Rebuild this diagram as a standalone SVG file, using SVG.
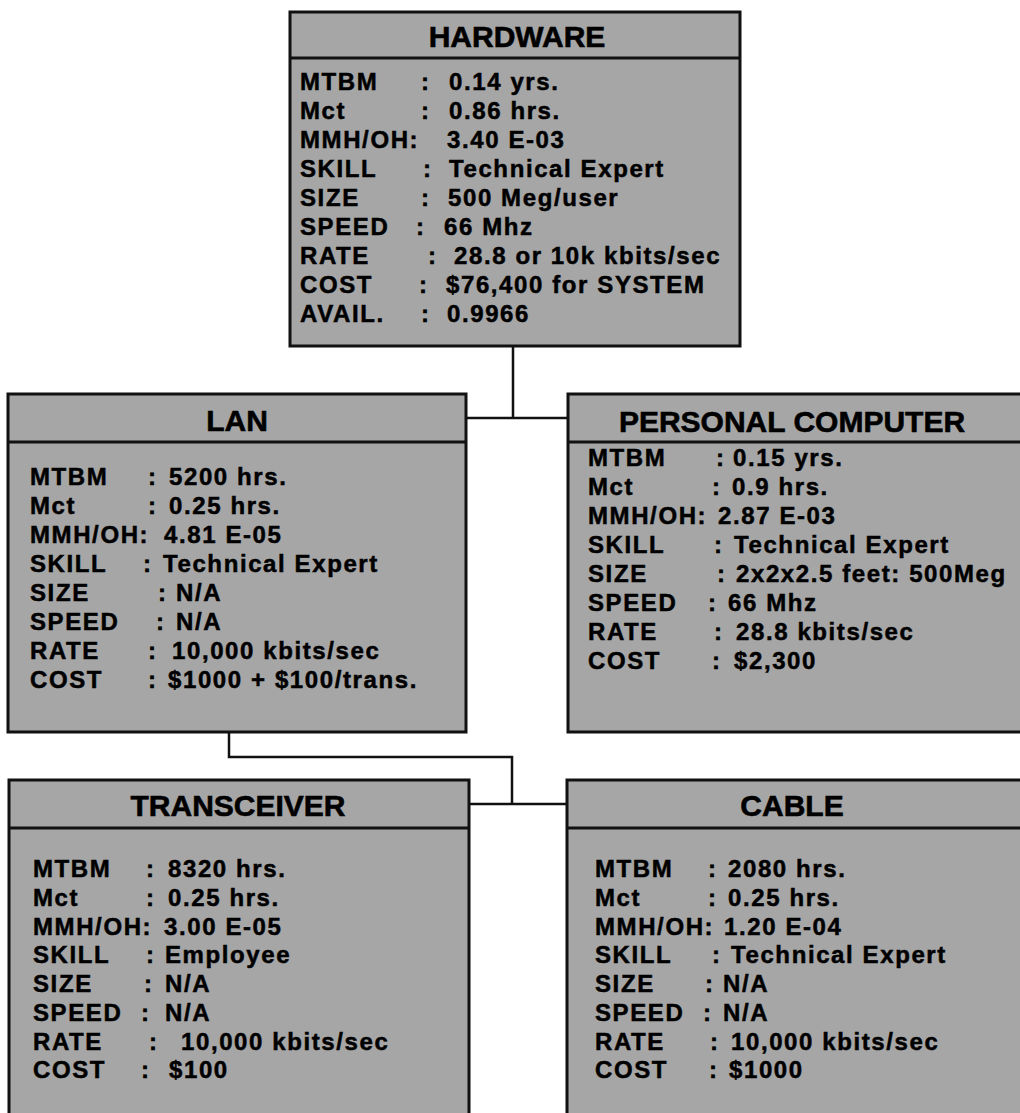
<svg xmlns="http://www.w3.org/2000/svg" width="1020" height="1113" viewBox="0 0 1020 1113">
<style>
.box{fill:#a6a6a6;stroke:#111;stroke-width:3}
.sep{stroke:#111;stroke-width:3}
.title{font-family:"Liberation Sans",Arial,sans-serif;font-weight:bold;font-size:30px;fill:#000;stroke:#000;stroke-width:0.6px;text-anchor:middle}
.t{font-family:"Liberation Sans",Arial,sans-serif;font-weight:bold;font-size:24px;letter-spacing:1.6px;fill:#000;stroke:#000;stroke-width:0.5px}
.conn{fill:none;stroke:#111;stroke-width:2.5}
</style>
<rect width="1020" height="1113" fill="#fff"/>
<g id="connectors">
<path class="conn" d="M513 346 V418 M466 418 H568"/>
<path class="conn" d="M229 732 V757 H512 V804 M469 804 H567"/>
</g>
<g id="hardware">
<rect class="box" x="290" y="12" width="450" height="334"/>
<line class="sep" x1="290" y1="58" x2="740" y2="58"/>
<text class="title" x="517" y="47">HARDWARE</text>
<text class="t" y="90"><tspan x="300">MTBM</tspan><tspan x="421">:</tspan><tspan x="449">0.14 yrs.</tspan></text>
<text class="t" y="119"><tspan x="300">Mct</tspan><tspan x="421">:</tspan><tspan x="449">0.86 hrs.</tspan></text>
<text class="t" y="148"><tspan x="300">MMH/OH:</tspan><tspan x="447">3.40 E-03</tspan></text>
<text class="t" y="177"><tspan x="300">SKILL</tspan><tspan x="423">:</tspan><tspan x="449">Technical Expert</tspan></text>
<text class="t" y="206"><tspan x="300">SIZE</tspan><tspan x="421">:</tspan><tspan x="448">500 Meg/user</tspan></text>
<text class="t" y="235"><tspan x="300">SPEED</tspan><tspan x="416">:</tspan><tspan x="444">66 Mhz</tspan></text>
<text class="t" y="264"><tspan x="300">RATE</tspan><tspan x="428">:</tspan><tspan x="454">28.8 or 10k kbits/sec</tspan></text>
<text class="t" y="293"><tspan x="300">COST</tspan><tspan x="419">:</tspan><tspan x="446">$76,400 for SYSTEM</tspan></text>
<text class="t" y="322"><tspan x="300">AVAIL.</tspan><tspan x="421">:</tspan><tspan x="447">0.9966</tspan></text>
</g>
<g id="lan">
<rect class="box" x="8" y="394" width="458" height="338"/>
<line class="sep" x1="8" y1="442" x2="466" y2="442"/>
<text class="title" x="237" y="431">LAN</text>
<text class="t" y="485"><tspan x="30">MTBM</tspan><tspan x="148">:</tspan><tspan x="169">5200 hrs.</tspan></text>
<text class="t" y="514"><tspan x="30">Mct</tspan><tspan x="148">:</tspan><tspan x="169">0.25 hrs.</tspan></text>
<text class="t" y="543"><tspan x="30">MMH/OH:</tspan><tspan x="164">4.81 E-05</tspan></text>
<text class="t" y="572"><tspan x="30">SKILL</tspan><tspan x="143">:</tspan><tspan x="163">Technical Expert</tspan></text>
<text class="t" y="601"><tspan x="30">SIZE</tspan><tspan x="158">:</tspan><tspan x="176">N/A</tspan></text>
<text class="t" y="630"><tspan x="30">SPEED</tspan><tspan x="156">:</tspan><tspan x="176">N/A</tspan></text>
<text class="t" y="659"><tspan x="30">RATE</tspan><tspan x="148">:</tspan><tspan x="172">10,000 kbits/sec</tspan></text>
<text class="t" y="688"><tspan x="30">COST</tspan><tspan x="148">:</tspan><tspan x="168">$1000 + $100/trans.</tspan></text>
</g>
<g id="personal-computer">
<rect class="box" x="568" y="394" width="470" height="338"/>
<line class="sep" x1="568" y1="442" x2="1038" y2="442"/>
<text class="title" x="792" y="432">PERSONAL COMPUTER</text>
<text class="t" y="466"><tspan x="588">MTBM</tspan><tspan x="716">:</tspan><tspan x="733">0.15 yrs.</tspan></text>
<text class="t" y="495"><tspan x="588">Mct</tspan><tspan x="712">:</tspan><tspan x="732">0.9 hrs.</tspan></text>
<text class="t" y="524"><tspan x="588">MMH/OH:</tspan><tspan x="718">2.87 E-03</tspan></text>
<text class="t" y="553"><tspan x="588">SKILL</tspan><tspan x="714">:</tspan><tspan x="734">Technical Expert</tspan></text>
<text class="t" y="582"><tspan x="588">SIZE</tspan><tspan x="717">:</tspan><tspan x="736">2x2x2.5 feet: 500Meg</tspan></text>
<text class="t" y="611"><tspan x="588">SPEED</tspan><tspan x="708">:</tspan><tspan x="728">66 Mhz</tspan></text>
<text class="t" y="640"><tspan x="588">RATE</tspan><tspan x="714">:</tspan><tspan x="736">28.8 kbits/sec</tspan></text>
<text class="t" y="669"><tspan x="588">COST</tspan><tspan x="712">:</tspan><tspan x="734">$2,300</tspan></text>
</g>
<g id="transceiver">
<rect class="box" x="9" y="780" width="460" height="345"/>
<line class="sep" x1="9" y1="828" x2="469" y2="828"/>
<text class="title" x="238" y="816">TRANSCEIVER</text>
<text class="t" y="877"><tspan x="33">MTBM</tspan><tspan x="146">:</tspan><tspan x="168">8320 hrs.</tspan></text>
<text class="t" y="906"><tspan x="33">Mct</tspan><tspan x="146">:</tspan><tspan x="168">0.25 hrs.</tspan></text>
<text class="t" y="935"><tspan x="33">MMH/OH:</tspan><tspan x="164">3.00 E-05</tspan></text>
<text class="t" y="963"><tspan x="33">SKILL</tspan><tspan x="146">:</tspan><tspan x="165">Employee</tspan></text>
<text class="t" y="992"><tspan x="33">SIZE</tspan><tspan x="144">:</tspan><tspan x="165">N/A</tspan></text>
<text class="t" y="1021"><tspan x="33">SPEED</tspan><tspan x="141">:</tspan><tspan x="165">N/A</tspan></text>
<text class="t" y="1050"><tspan x="33">RATE</tspan><tspan x="149">:</tspan><tspan x="181">10,000 kbits/sec</tspan></text>
<text class="t" y="1078"><tspan x="33">COST</tspan><tspan x="141">:</tspan><tspan x="169">$100</tspan></text>
</g>
<g id="cable">
<rect class="box" x="567" y="780" width="470" height="345"/>
<line class="sep" x1="567" y1="828" x2="1037" y2="828"/>
<text class="title" x="792" y="816">CABLE</text>
<text class="t" y="877"><tspan x="595">MTBM</tspan><tspan x="708">:</tspan><tspan x="728">2080 hrs.</tspan></text>
<text class="t" y="906"><tspan x="595">Mct</tspan><tspan x="708">:</tspan><tspan x="728">0.25 hrs.</tspan></text>
<text class="t" y="935"><tspan x="595">MMH/OH:</tspan><tspan x="724">1.20 E-04</tspan></text>
<text class="t" y="963"><tspan x="595">SKILL</tspan><tspan x="712">:</tspan><tspan x="731">Technical Expert</tspan></text>
<text class="t" y="992"><tspan x="595">SIZE</tspan><tspan x="705">:</tspan><tspan x="723">N/A</tspan></text>
<text class="t" y="1021"><tspan x="595">SPEED</tspan><tspan x="703">:</tspan><tspan x="723">N/A</tspan></text>
<text class="t" y="1050"><tspan x="595">RATE</tspan><tspan x="710">:</tspan><tspan x="731">10,000 kbits/sec</tspan></text>
<text class="t" y="1078"><tspan x="595">COST</tspan><tspan x="709">:</tspan><tspan x="729">$1000</tspan></text>
</g>
</svg>
